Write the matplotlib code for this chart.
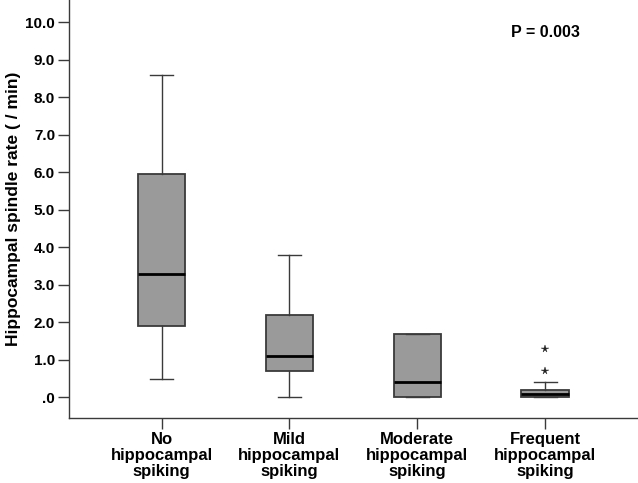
import matplotlib
matplotlib.use('Agg')
import matplotlib.pyplot as plt

plt.rcParams['font.family'] = ['Liberation Sans', 'DejaVu Sans']
plt.rcParams['font.weight'] = 'bold'

# group labels and box summary values
groups = ['No\nhippocampal\nspiking', 'Mild\nhippocampal\nspiking',
          'Moderate\nhippocampal\nspiking', 'Frequent\nhippocampal\nspiking']
whislo = [0.5, 0.0, 0.0, 0.0]
q1 = [1.9, 0.7, 0.0, 0.0]
med = [3.3, 1.1, 0.4, 0.1]
q3 = [5.95, 2.2, 1.7, 0.2]
whishi = [8.6, 3.8, 1.7, 0.4]
fliers = [[], [], [], [0.7, 1.3]]
yticks = [0, 1, 2, 3, 4, 5, 6, 7, 8, 9, 10]
ytick_labels = ['.0', '1.0', '2.0', '3.0', '4.0', '5.0', '6.0', '7.0', '8.0', '9.0', '10.0']

stats = []
for i in range(len(groups)):
    stats.append(dict(whislo=whislo[i], q1=q1[i], med=med[i], q3=q3[i],
                      whishi=whishi[i], fliers=fliers[i]))

fig = plt.figure(figsize=(6.38, 4.83), dpi=100)
ax = fig.add_axes([69 / 638, 65 / 483, 569 / 638, 418 / 483])

edge = '#3a3a3a'
ax.bxp(stats, positions=[1, 2, 3, 4], widths=0.37, patch_artist=True,
       boxprops=dict(facecolor='#9a9a9a', edgecolor=edge, linewidth=1.3),
       medianprops=dict(color='black', linewidth=2),
       whiskerprops=dict(color=edge, linewidth=1),
       capprops=dict(color=edge, linewidth=1),
       flierprops=dict(marker='*', markersize=5.5, markerfacecolor='#222222',
                       markeredgecolor='#222222', markeredgewidth=0.3,
                       linestyle='none'),
       capwidths=0.18)

ax.set_xlim(0.276, 4.727)
ax.set_ylim(-0.55, 10.6)
ax.set_yticks(yticks)
ax.set_yticklabels(ytick_labels)
ax.set_xticks([1, 2, 3, 4])
ax.set_xticklabels(groups, linespacing=1.08, fontsize=12)
ax.tick_params(axis='both', length=8, width=1, color=edge, labelsize=11, pad=2)
ax.tick_params(axis='x', labelsize=12, pad=2)

for s in ['top', 'right']:
    ax.spines[s].set_visible(False)
for s in ['left', 'bottom']:
    ax.spines[s].set_color(edge)
    ax.spines[s].set_linewidth(1)

ax.set_ylabel('Hippocampal spindle rate ( / min)', fontsize=12.5, fontweight='bold', labelpad=3)
ax.text(4.0, 9.72, 'P = 0.003', fontsize=11.5, fontweight='bold', ha='center', va='center')

fig.savefig('out.png', dpi=100)
